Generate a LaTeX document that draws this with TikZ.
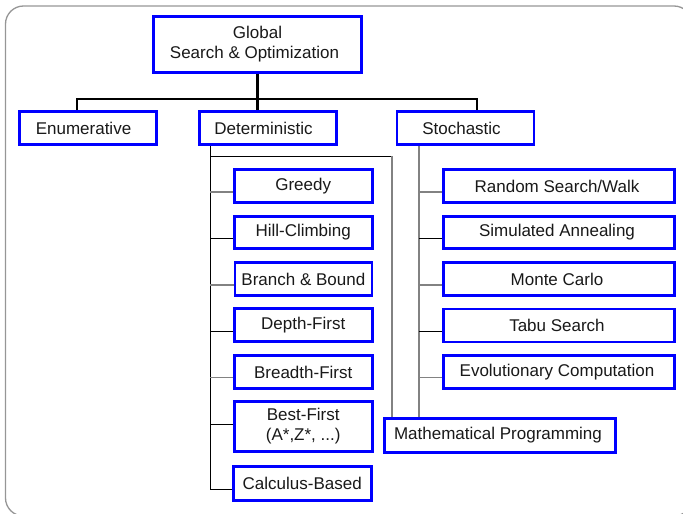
\documentclass[tikz,border=0pt]{standalone}
\usepackage{fontspec}
\setmainfont{Liberation Sans}
\usetikzlibrary{calc}
\definecolor{boxblue}{RGB}{0,0,255}
\definecolor{framegray}{RGB}{150,150,150}
\definecolor{stubgray}{RGB}{130,130,130}
\definecolor{txt}{RGB}{25,25,25}
\tikzset{
  box/.style={draw=boxblue, line width=2.8pt, fill=white, inner sep=0pt,
    font=\fontsize{17}{20}\selectfont, text=txt, align=center},
  smallbox/.style={box, minimum width=138pt, minimum height=33pt},
  widebox/.style={box, minimum width=231pt, minimum height=33pt},
  tree/.style={line width=2.4pt, black},
  thin/.style={line width=0.9pt, black},
  thingray/.style={line width=1.3pt, stubgray},
}
\begin{document}
\begin{tikzpicture}[x=1pt,y=-1pt]
\useasboundingbox (0,0) rectangle (683,514);
\clip (0,0) rectangle (683,514);
\draw[framegray, line width=1.3pt, rounded corners=18pt] (5.5,6) rectangle (692,516);

% top level
\node[box, minimum width=208pt, minimum height=56pt] (global) at (257.5,44.5) {Global\\Search \& Optimization\hspace*{6pt}};
\node[smallbox, minimum width=137pt] (enum) at (88,128) {Enumerative\hspace*{9pt}};
\node[smallbox, minimum width=137pt] (det) at (268,128) {Deterministic\hspace*{9pt}};
\node[smallbox, minimum width=137pt] (stoch) at (465.5,128) {Stochastic\hspace*{8pt}};

% deterministic children
\node[smallbox] (greedy) at (303.2,186) {Greedy};
\node[smallbox, minimum height=32pt] (hill) at (303.2,232.5) {Hill-Climbing};
\node[smallbox, minimum width=137pt] (branch) at (303.4,279) {Branch \& Bound};
\node[smallbox] (depth) at (303.2,325.3) {Depth-First};
\node[smallbox] (breadth) at (303.2,372) {Breadth-First};
\node[smallbox, minimum height=50pt] (best) at (303.2,426.5) {Best-First\\(A*,Z*, ...)};
\node[smallbox, minimum height=34pt] (calc) at (302.2,483.5) {Calculus-Based};

% stochastic children
\node[widebox] (random) at (559,186) {Random Search/Walk\hspace*{4pt}};
\node[widebox, minimum height=32pt] (sim) at (559,232.5) {Simulated Annealing\hspace*{4pt}};
\node[widebox] (monte) at (559,279) {Monte Carlo\hspace*{4pt}};
\node[widebox] (tabu) at (559,325.5) {Tabu Search\hspace*{4pt}};
\node[widebox] (evol) at (559,372) {Evolutionary Computation\hspace*{4pt}};
\node[widebox, minimum height=34pt] (math) at (500,435.5) {Mathematical Programming\hspace*{4pt}};

% top tree
\coordinate (barl) at (76.7,99);
\coordinate (barr) at (477,99);
\draw[tree] (global.south) -- (global.south |- barl);
\draw[tree] (enum.north -| barl) -- (barl) -- (barr) -- (stoch.north -| barr);
\draw[tree] (global.south |- barl) -- (global.south |- det.north);

% deterministic subtree
\coordinate (dl) at (210,146);
\coordinate (dr) at (392,156);
\coordinate (sl) at (419,146);
\draw[thin] (dl) -- ([yshift=-5.5pt]calc.west -| dl);
\draw[thin] (dl |- dr) -- (dr);
\draw[thingray] (dr) -- (math.north -| dr);
\draw[thingray] (sl) -- (math.north -| sl);

\draw[thingray] ([yshift=-6pt]greedy.west) -- ([yshift=-6pt]greedy.west -| dl);
\draw[thin] ([yshift=-5.5pt]hill.west) -- ([yshift=-5.5pt]hill.west -| dl);
\draw[thingray] ([yshift=-6pt]branch.west) -- ([yshift=-6pt]branch.west -| dl);
\draw[thin] ([yshift=-6.4pt]depth.west) -- ([yshift=-6.4pt]depth.west -| dl);
\draw[thingray] ([yshift=-5.7pt]breadth.west) -- ([yshift=-5.7pt]breadth.west -| dl);
\draw[thin] ([yshift=2.5pt]best.west) -- ([yshift=2.5pt]best.west -| dl);
\draw[thin] ([yshift=-5.5pt]calc.west) -- ([yshift=-5.5pt]calc.west -| dl);

% stochastic stubs
\draw[thingray] ([yshift=-6pt]random.west) -- ([yshift=-6pt]random.west -| sl);
\draw[thin] ([yshift=-6.2pt]sim.west) -- ([yshift=-6.2pt]sim.west -| sl);
\draw[thingray] ([yshift=-6pt]monte.west) -- ([yshift=-6pt]monte.west -| sl);
\draw[thin] ([yshift=-6.2pt]tabu.west) -- ([yshift=-6.2pt]tabu.west -| sl);
\draw[thingray] ([yshift=-5.7pt]evol.west) -- ([yshift=-5.7pt]evol.west -| sl);
\end{tikzpicture}
\end{document}
